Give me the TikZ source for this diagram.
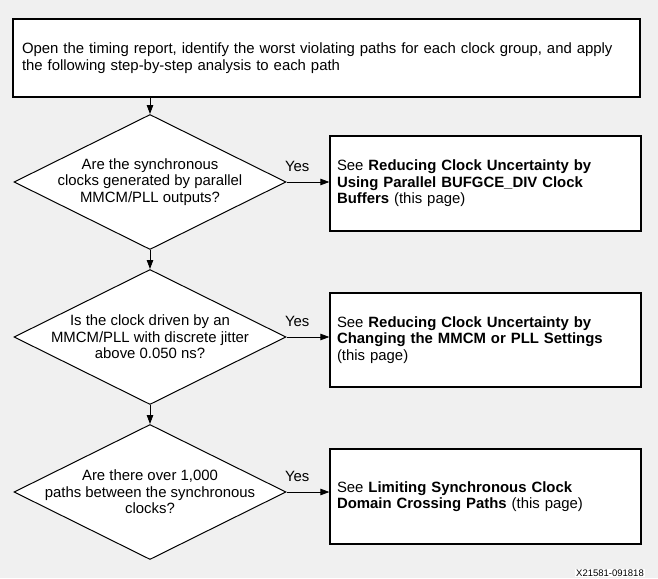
\documentclass[tikz,border=0pt]{standalone}
\usepackage{fontspec}
\setmainfont{Liberation Sans}
\usetikzlibrary{arrows.meta, shapes.geometric}

\begin{document}
\begin{tikzpicture}[x=1pt, y=-1pt,
		every node/.style={font=\fontsize{14.9}{16.4}\selectfont},
		box/.style={draw, line width=1.3pt, fill=white, rectangle, align=left, inner xsep=7pt, inner ysep=0pt},
		test/.style={draw, line width=1pt, fill=white, diamond, inner sep=0pt, minimum width=272pt, minimum height=135pt, label={[align=center]center:#1}},
		flow/.style={-{Triangle[length=9pt,width=6.5pt]}, line width=0.8pt},
		yes/.style={pos=0.25, above=10pt, inner sep=0pt}]
		\fill[black!6] (0,0) rectangle (658,578);
		\useasboundingbox (0,0) rectangle (658,578);
		\node[box, inner xsep=9pt, text width=609pt, minimum height=78pt] (start) at (326.5,58) {Open the timing report, identify the worst violating paths for each clock group, and apply\\the following step-by-step analysis to each path};
		\node[test={Are the synchronous\\clocks generated by parallel\\MMCM/PLL outputs?}] (q1) at (150,182) {};
		\node[test={Is the clock driven by an\\MMCM/PLL with discrete jitter\\above 0.050~ns?}] (q2) at (150,337) {};
		\node[test={Are there over 1,000\\paths between the synchronous\\clocks?}] (q3) at (150,492) {};
		\node[box, text width=297pt, minimum height=95pt] (a1) at (485.5,183.5) {See \textbf{Reducing Clock Uncertainty by}\\\textbf{Using Parallel BUFGCE\_DIV Clock}\\\textbf{Buffers} (this page)};
		\node[box, text width=297pt, minimum height=94pt] (a2) at (485.5,340) {See \textbf{Reducing Clock Uncertainty by}\\\textbf{Changing the MMCM or PLL Settings}\\(this page)};
		\node[box, text width=297pt, minimum height=95pt] (a3) at (485.5,496.5) {See \textbf{Limiting Synchronous Clock}\\\textbf{Domain Crossing Paths} (this page)};
		\draw[flow] (start.south -| q1.north) -- (q1.north);
		\draw[flow] (q1.south) -- (q2.north);
		\draw[flow] (q2.south) -- (q3.north);
		\draw[flow] (q1.east) -- node[yes] {Yes} (q1.east -| a1.west);
		\draw[flow] (q2.east) -- node[yes] {Yes} (q2.east -| a2.west);
		\draw[flow] (q3.east) -- node[yes] {Yes} (q3.east -| a3.west);
		\node[fill=white, inner sep=1pt, anchor=east, font=\fontsize{9.5}{10}\selectfont] (tag) at (645,573) {X21581-091818};
	\end{tikzpicture}
\end{document}
